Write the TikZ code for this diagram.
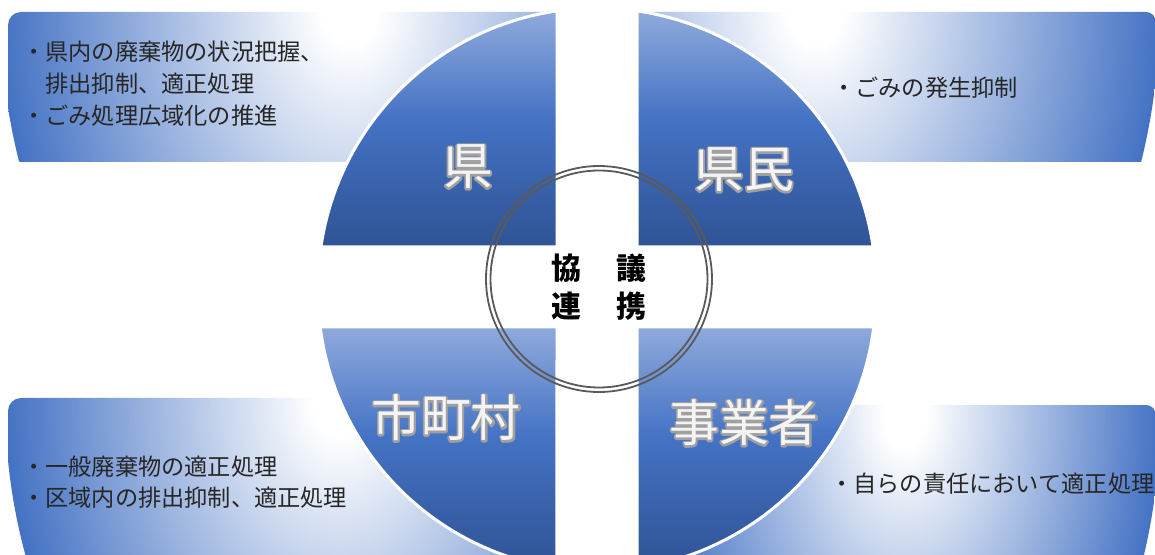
\documentclass[tikz,border=0pt]{standalone}
\usepackage{fontspec}
\newfontfamily\jp{Noto Sans CJK JP}
\usetikzlibrary{calc}
\definecolor{qblue}{HTML}{4472C4}
\definecolor{qlight}{HTML}{8FAADC}
\definecolor{qdark}{HTML}{2F5395}
\definecolor{txt}{HTML}{262626}
\definecolor{ring}{HTML}{5A5A5A}
\definecolor{lbl}{HTML}{F4F4F4}
\definecolor{lblo}{HTML}{A0A0A0}
\pgfdeclareradialshading{boxrad}{\pgfpoint{0bp}{0bp}}{color(0bp)=(white); color(2bp)=(white); color(25bp)=(qblue); color(50bp)=(qblue)}
\pgfdeclareverticalshading{quadsh}{100bp}{color(0bp)=(qdark); color(25bp)=(qdark); color(52bp)=(qblue); color(75bp)=(qlight); color(100bp)=(qlight)}
\newcommand\strokedonly[1]{\special{pdf:literal direct 1 Tr 3.6 w 1 J 1 j}#1\special{pdf:literal direct 0 Tr}}
\newcommand\qlab[3]{%
  \node[lbltext, text=lblo] (#1-outline) at (#2) {\strokedonly{#3}};
  \node[lbltext, text=lbl] (#1) at (#2) {#3};}
\begin{document}
\begin{tikzpicture}[x=1bp,y=1bp,
  bodytext/.style={anchor=west, inner sep=0pt, text=txt, font=\jp\fontsize{23.3}{28}\selectfont},
  lbltext/.style={inner sep=0pt, font=\jp\fontsize{50}{60}\selectfont},
  ctext/.style={inner sep=0pt, text=black, font=\jp\bfseries\fontsize{30}{36}\selectfont},
  quad/.style={shade, shading=quadsh, draw=white, line width=3bp},
  ringline/.style={draw=ring, line width=1.8bp}]

\useasboundingbox (0,0) rectangle (1155,-555);
\clip (0,0) rectangle (1155,-555);
\fill[white] (0,0) rectangle (1155,-555);

% callout boxes
\begin{scope}
  \clip[rounded corners=13bp] (8,-12) rectangle (557,-162);
  \shade[shading=boxrad] (350,-5) ellipse [x radius=350, y radius=480];
\end{scope}
\begin{scope}
  \clip[rounded corners=10bp] (637,-12) rectangle (1156,-162);
  \shade[shading=boxrad] (815,-5) ellipse [x radius=345, y radius=480];
\end{scope}
\begin{scope}
  \clip[rounded corners=13bp] (8,-398) rectangle (557,-570);
  \shade[shading=boxrad] (340,-400) ellipse [x radius=335, y radius=450];
\end{scope}
\begin{scope}
  \clip[rounded corners=10bp] (637,-405) rectangle (1156,-570);
  \shade[shading=boxrad] (905,-415) ellipse [x radius=255, y radius=400];
\end{scope}

% quadrants
\path[quad] (557,-247) -- (557,-10.9) arc[start angle=98.25, end angle=171.75, radius=279] -- cycle;
\path[quad] (637,-247) -- (873.1,-247) arc[start angle=8.25, end angle=81.75, radius=279] -- cycle;
\path[quad] (557,-327) -- (320.2,-327) arc[start angle=187.2, end angle=261.75, radius=279] -- cycle;
\path[quad] (637,-327) -- (637,-568.1) arc[start angle=278.25, end angle=352.8, radius=279] -- cycle;

% quadrant labels
\qlab{ken}{468,-167}{県}
\qlab{kenmin}{744,-170}{県民}
\qlab{shi}{446,-418}{市町村}
\qlab{jigyo}{744,-423}{事業者}

% central ring
\draw[ringline] (599,-279) circle (113);
\draw[ringline] (599,-279) circle (108.5);
\node[ctext] (kyo) at (566,-268) {協};
\node[ctext] (gi) at (631,-268) {議};
\node[ctext] (ren) at (566,-306) {連};
\node[ctext] (kei) at (631,-306) {携};

% texts
\node[bodytext] (tl1) at (22,-52) {・県内の廃棄物の状況把握、};
\node[bodytext] (tl2) at (45.3,-84) {排出抑制、適正処理};
\node[bodytext] (tl3) at (22,-116) {・ごみ処理広域化の推進};
\node[bodytext] (tr1) at (832,-88) {・ごみの発生抑制};
\node[bodytext] (bl1) at (22,-467) {・一般廃棄物の適正処理};
\node[bodytext] (bl2) at (22,-498) {・区域内の排出抑制、適正処理};
\node[bodytext] (br1) at (830,-484) {・自らの責任において適正処理};
\end{tikzpicture}
\end{document}
